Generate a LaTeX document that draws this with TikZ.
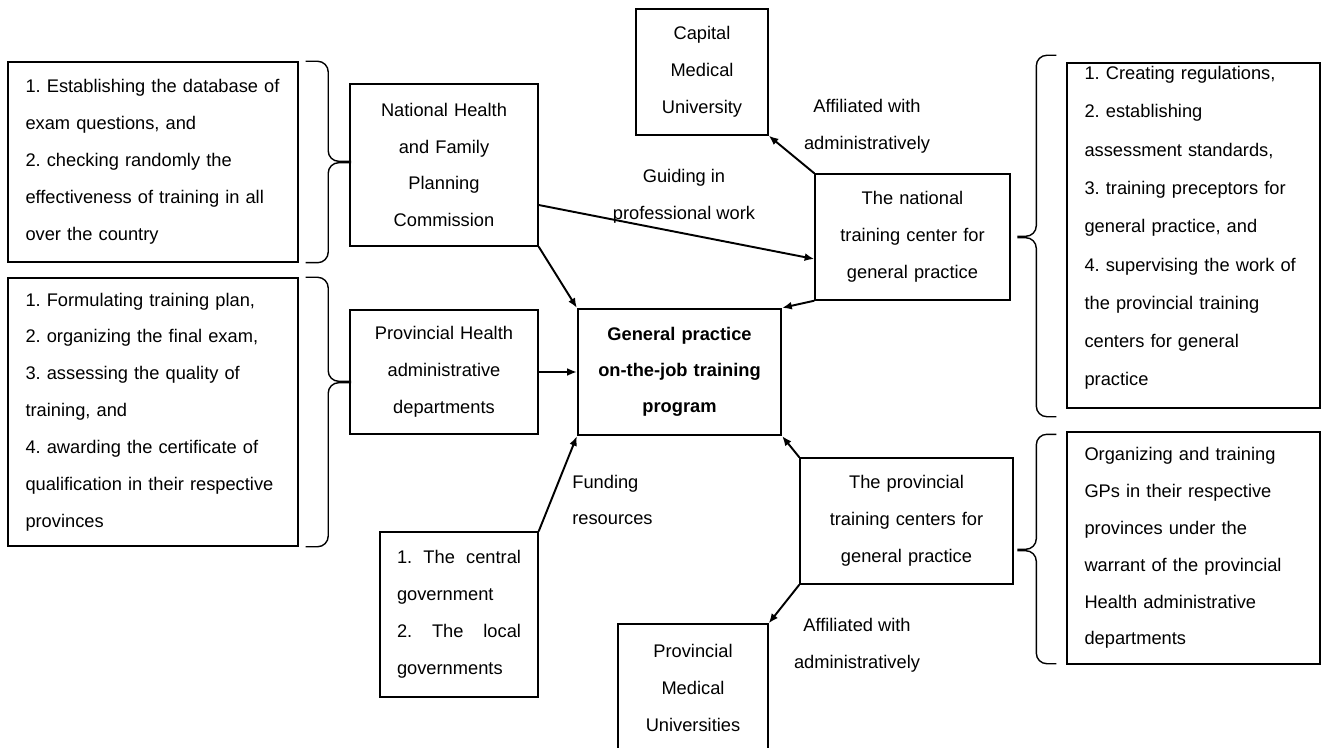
\documentclass[tikz,border=0pt]{standalone}
\usepackage{fontspec}
\setmainfont{Liberation Sans}
\frenchspacing
\usetikzlibrary{arrows.meta}

\begin{document}
\begin{tikzpicture}[
    txt/.style={font=\fontsize{10.4}{21}\selectfont},
    box/.style={txt, draw, line width=0.8pt, align=center, inner xsep=0.1cm, inner ysep=0pt},
    listbox/.style={txt, draw, line width=0.8pt, align=left, inner xsep=0.35cm, inner ysep=0pt},
    lbl/.style={txt, align=center, inner sep=0pt},
    arr/.style={line width=1.1pt, -{Latex[length=5.5pt,width=4.5pt]}},
    brc/.style={line width=0.8pt, rounded corners=6pt}
  ]
    \useasboundingbox (0,0) rectangle (26.42,-14.96);
    \clip (0,0) rectangle (26.42,-14.96);

    \node[listbox, text width=5.1cm, minimum height=4cm] (exam) at (3.06,-3.24)
      {1. Establishing the database of\\exam questions, and\\2. checking randomly the\\effectiveness of training in all\\over the country};
    \node[listbox, text width=5.1cm, minimum height=5.36cm] (plan) at (3.06,-8.24)
      {1. Formulating training plan,\\2. organizing the final exam,\\3. assessing the quality of\\training, and\\4. awarding the certificate of\\qualification in their respective\\provinces};
    \node[box, text width=3.56cm, minimum height=3.24cm] (nhfpc) at (8.88,-3.30)
      {National Health\\and Family\\Planning\\Commission};
    \node[box, text width=3.56cm, minimum height=2.48cm] (phad) at (8.88,-7.44)
      {Provincial Health\\administrative\\departments};
    \node[box, line width=1.3pt, text width=3.86cm, minimum height=2.52cm,
          font=\fontsize{10.4}{20.5}\selectfont\bfseries] (prog) at (13.59,-7.44)
      {General practice\\on-the-job training\\program};
    \node[box, text width=2.44cm, minimum height=2.52cm] (cmu) at (14.04,-1.44)
      {Capital\\Medical\\University};
    \node[box, text width=3.7cm, minimum height=2.52cm] (natc) at (18.25,-4.74)
      {The national\\training center for\\general practice};
    \node[listbox, text width=4.36cm, minimum height=6.9cm,
          font=\fontsize{10.4}{21.8}\selectfont] (duty) at (23.87,-4.71)
      {1. Creating regulations,\\2. establishing\\assessment standards,\\3. training preceptors for\\general practice, and\\4. supervising the work of\\the provincial training\\centers for general\\practice\par\kern0.3cm\hrule height0pt width0pt};
    \node[box, text width=4.06cm, minimum height=2.52cm] (provc) at (18.13,-10.42)
      {The provincial\\training centers for\\general practice};
    \node[listbox, text width=4.36cm, minimum height=4.64cm] (warrant) at (23.87,-10.96)
      {Organizing and training\\GPs in their respective\\provinces under the\\warrant of the provincial\\Health administrative\\departments};
    \node[listbox, inner xsep=0.34cm, text width=2.48cm, minimum height=3.3cm] (fund) at (9.18,-12.29)
      {1.\hfill The\hfill central\\government\\2.\hfill The\hfill local\\governments};
    \node[box, text width=2.8cm, minimum height=2.56cm] (pmu) at (13.86,-13.76)
      {Provincial\\Medical\\Universities};

    \node[lbl] (guide) at (13.68,-3.92) {Guiding in\\professional work};
    \node[lbl] (affcap) at (17.34,-2.52) {Affiliated with\\administratively};
    \node[lbl] (affprov) at (17.14,-12.90) {Affiliated with\\administratively};
    \node[lbl, anchor=west, align=left] (funding) at (11.44,-10.0) {Funding\\resources};

    \draw[arr] (nhfpc.south east) -- (prog.north west);
    \draw[arr] ([yshift=-0.8cm]nhfpc.east) -- ([yshift=-0.44cm]natc.west);
    \draw[arr] (phad.east) -- (prog.west);
    \draw[arr] (fund.north east) -- (prog.south west);
    \draw[arr] (natc.south west) -- (prog.north east);
    \draw[arr] (provc.north west) -- (prog.south east);
    \draw[arr] (natc.north west) -- (cmu.south east);
    \draw[arr] (provc.south west) -- (pmu.north east);

    \draw[brc] ([xshift=0.14cm]exam.north east) -- ++(0.45,0) -- ++(0,-2.0) -- ++(0.46,0);
    \draw[brc] ([xshift=0.14cm]exam.south east) -- ++(0.45,0) -- ++(0,2.0) -- ++(0.46,0);
    \draw[brc] ([xshift=0.14cm]plan.north east) -- ++(0.45,0) -- ++(0,-2.08) -- ++(0.46,0);
    \draw[brc] ([xshift=0.14cm]plan.south east) -- ++(0.45,0) -- ++(0,3.28) -- ++(0.46,0);
    \draw[brc] ([xshift=-0.2cm,yshift=0.14cm]duty.north west) -- ++(-0.4,0) -- ++(0,-3.62) -- ++(-0.38,0);
    \draw[brc] ([xshift=-0.2cm,yshift=-0.16cm]duty.south west) -- ++(-0.4,0) -- ++(0,3.58) -- ++(-0.38,0);
    \draw[brc] ([xshift=-0.2cm,yshift=-0.06cm]warrant.north west) -- ++(-0.4,0) -- ++(0,-2.3) -- ++(-0.38,0);
    \draw[brc] ([xshift=-0.2cm,yshift=0.02cm]warrant.south west) -- ++(-0.4,0) -- ++(0,2.26) -- ++(-0.38,0);
  \end{tikzpicture}
\end{document}
